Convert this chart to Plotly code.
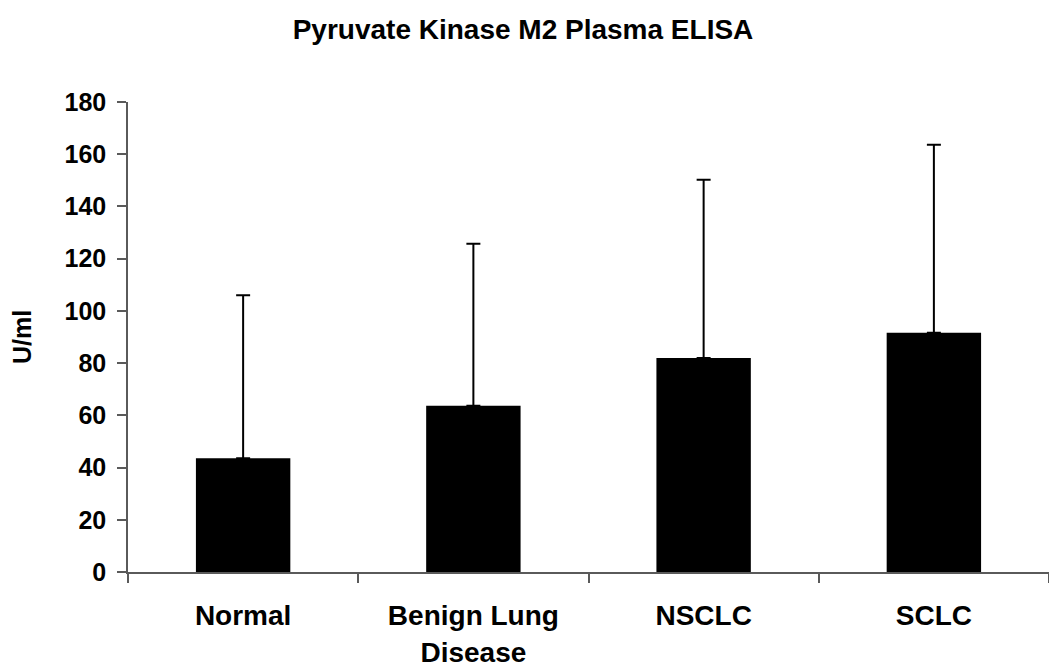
import plotly.graph_objects as go

# Group labels and measured plasma PK-M2 levels (mean and upper SD)
categories = ["Normal", "Benign Lung<br>Disease", "NSCLC", "SCLC"]
means = [43.6, 63.7, 82.0, 91.6]
upper_sd = [62.4, 62.0, 68.2, 72.0]
lower_sd = [0, 0, 0, 0]
y_ticks = [0, 20, 40, 60, 80, 100, 120, 140, 160, 180]

FONT = "Liberation Sans, Arial, sans-serif"
AXIS_GRAY = "#5a5a5a"

fig = go.Figure(
    go.Bar(
        x=categories,
        y=means,
        width=0.41,
        marker=dict(color="black", line=dict(width=0)),
        error_y=dict(
            type="data",
            symmetric=False,
            array=upper_sd,
            arrayminus=lower_sd,
            color="black",
            thickness=2,
            width=7,
        ),
    )
)

fig.update_layout(
    width=1049,
    height=669,
    paper_bgcolor="white",
    plot_bgcolor="white",
    margin=dict(l=128, r=0, t=102, b=97),
    showlegend=False,
    font=dict(family=FONT, color="black", size=25),
    title=dict(
        text="<b>Pyruvate Kinase M2 Plasma ELISA</b>",
        x=523 / 1049,
        xanchor="center",
        y=1 - 29 / 669,
        yanchor="middle",
        xref="container",
        yref="container",
        font=dict(family=FONT, size=28, color="black"),
    ),
)

fig.update_xaxes(
    type="category",
    showline=True,
    linecolor=AXIS_GRAY,
    linewidth=1.5,
    ticks="outside",
    tickson="boundaries",
    ticklen=9,
    tickcolor=AXIS_GRAY,
    tickwidth=1.5,
    tickfont=dict(family=FONT, size=28, color="black"),
    ticklabelstandoff=18,
    showgrid=False,
    zeroline=False,
    tickvals=categories,
    ticktext=["<b>" + c.replace("<br>", "</b><br><b>") + "</b>" for c in categories],
)

fig.update_yaxes(
    range=[0, 180],
    tickvals=y_ticks,
    ticktext=["<b>%d</b>" % v for v in y_ticks],
    showline=True,
    linecolor=AXIS_GRAY,
    linewidth=1.5,
    ticks="outside",
    ticklen=9,
    tickcolor=AXIS_GRAY,
    tickwidth=1.5,
    tickfont=dict(family=FONT, size=25, color="black"),
    ticklabelstandoff=6,
    showgrid=False,
    zeroline=False,
)

fig.add_annotation(
    text="<b>U/ml</b>",
    xref="paper",
    yref="paper",
    x=0,
    y=0.5,
    xshift=-106,
    xanchor="center",
    yanchor="middle",
    textangle=-90,
    showarrow=False,
    font=dict(family=FONT, size=25, color="black"),
)

fig.write_html("out.html")
